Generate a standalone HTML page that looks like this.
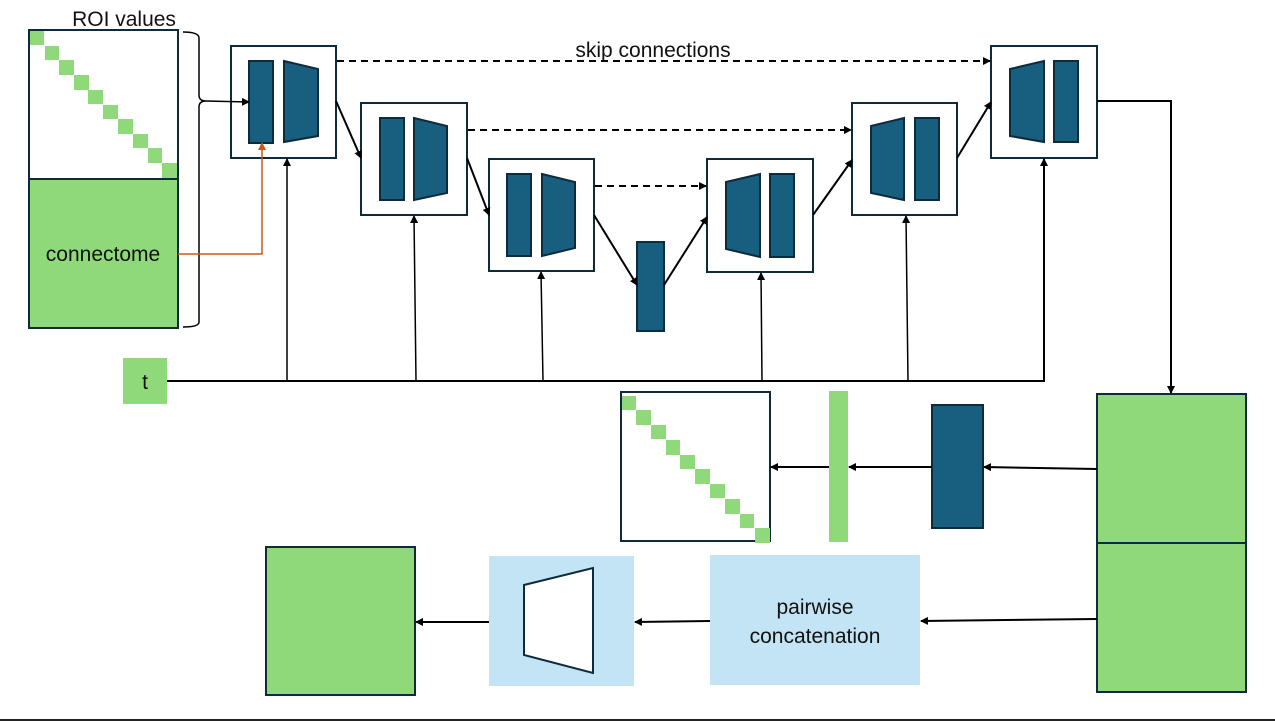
<!DOCTYPE html>
<html><head><meta charset="utf-8"><style>
html,body{margin:0;padding:0;background:#fff;}
svg{display:block;}
text{font-family:"Liberation Sans",sans-serif;fill:#111;}
</style></head><body>
<svg width="1275" height="722" viewBox="0 0 1275 722" xmlns="http://www.w3.org/2000/svg">
<defs>
<marker id="a" markerWidth="8" markerHeight="8" refX="7" refY="4" orient="auto" markerUnits="userSpaceOnUse"><path d="M0,0 L8,4 L0,8 z" fill="#000"/></marker>
<marker id="o" markerWidth="8" markerHeight="8" refX="7" refY="4" orient="auto" markerUnits="userSpaceOnUse"><path d="M0,0 L8,4 L0,8 z" fill="#c55a1c"/></marker>
</defs>
<g stroke="#0d2b3a" stroke-width="2">
<rect x="29" y="30" width="149" height="149" fill="#fff"/>
<rect x="29" y="179" width="149" height="149" fill="#8fd97a"/>
</g>
<g fill="#8fd97a">
<rect x="30" y="31" width="14" height="14"/><rect x="45" y="46" width="14" height="14"/><rect x="59" y="60" width="15" height="15"/><rect x="74" y="75" width="15" height="15"/><rect x="88" y="90" width="15" height="14"/><rect x="103" y="105" width="15" height="14"/><rect x="118" y="119" width="15" height="15"/><rect x="133" y="134" width="15" height="14"/><rect x="148" y="148" width="14" height="15"/><rect x="162" y="163" width="15" height="15"/>
</g>
<text x="124" y="26" font-size="21" text-anchor="middle">ROI values</text>
<text x="103" y="261" font-size="21" text-anchor="middle">connectome</text>
<path d="M183,32 Q199,32 199,38 L199,95 Q199,101 206,101 Q199,101 199,107 L199,322 Q199,327 183,327" fill="none" stroke="#000" stroke-width="1.5"/>
<rect x="123" y="358" width="44" height="46" fill="#8fd97a"/>
<text x="145" y="389" font-size="21" text-anchor="middle">t</text>
<!-- blocks -->
<g stroke="#0d2b3a" stroke-width="2">
<rect x="231" y="46" width="105" height="112" fill="#fff"/>
<rect x="361" y="103" width="106" height="112" fill="#fff"/>
<rect x="489" y="159" width="105" height="112" fill="#fff"/>
<rect x="707" y="159" width="106" height="113" fill="#fff"/>
<rect x="852" y="103" width="105" height="112" fill="#fff"/>
<rect x="991" y="46" width="106" height="112" fill="#fff"/>
</g>
<g stroke="#0d2b3a" stroke-width="2" fill="#175e7f">
<rect x="249" y="61" width="24" height="82"/><polygon points="284,61 318,69 318,136 284,142"/>
<rect x="380" y="118" width="24" height="82"/><polygon points="414,118 447,126 447,193 414,200"/>
<rect x="507" y="174" width="24" height="82"/><polygon points="542,174 575,182 575,248 542,256"/>
<rect x="637" y="242" width="27" height="89"/>
<polygon points="726,182 760,174 760,257 726,249"/><rect x="770" y="174" width="24" height="83"/>
<polygon points="871,126 904,118 904,200 871,193"/><rect x="915" y="118" width="24" height="82"/>
<polygon points="1010,69 1044,61 1044,142 1010,136"/><rect x="1054" y="61" width="24" height="81"/>
<rect x="932" y="405" width="51" height="123"/>
</g>
<g stroke="#0d2b3a" stroke-width="2" fill="#8fd97a">
<rect x="1097" y="394" width="149" height="149"/>
<rect x="1097" y="543" width="149" height="149"/>
<rect x="266" y="547" width="149" height="148"/>
</g>
<rect x="829" y="391" width="19" height="151" fill="#8fd97a"/>
<rect x="621" y="392" width="149" height="149" fill="#fff" stroke="#0d2b3a" stroke-width="2"/>
<g fill="#8fd97a">
<rect x="622" y="396" width="14" height="14"/><rect x="636" y="410" width="15" height="15"/><rect x="651" y="425" width="15" height="14"/><rect x="666" y="440" width="14" height="15"/><rect x="680" y="455" width="15" height="14"/><rect x="695" y="469" width="15" height="15"/><rect x="710" y="484" width="15" height="14"/><rect x="725" y="499" width="15" height="15"/><rect x="740" y="514" width="14" height="14"/><rect x="755" y="528" width="15" height="15"/>
</g>
<rect x="710" y="555" width="210" height="130" fill="#c2e4f4"/>
<text x="815" y="614" font-size="21" text-anchor="middle">pairwise</text>
<text x="815" y="643" font-size="21" text-anchor="middle">concatenation</text>
<rect x="489" y="556" width="145" height="130" fill="#c2e4f4"/>
<polygon points="524,585 593,568 593,673 524,655" fill="#fff" stroke="#0d2b3a" stroke-width="2"/>
<!-- connectors on top -->
<line x1="206" y1="101" x2="249" y2="102" stroke="#000" stroke-width="1.5" marker-end="url(#a)"/>
<polyline points="178,254 262,254 262,143" fill="none" stroke="#c55a1c" stroke-width="1.5" marker-end="url(#o)"/>
<polyline points="167,381 1044,381 1044,159" fill="none" stroke="#000" stroke-width="2" marker-end="url(#a)"/>
<g stroke="#000" stroke-width="1.5" marker-end="url(#a)">
<line x1="287" y1="381" x2="287" y2="159"/>
<line x1="416" y1="381" x2="414" y2="216"/>
<line x1="543" y1="381" x2="541" y2="272"/>
<line x1="762" y1="381" x2="761" y2="273"/>
<line x1="908" y1="381" x2="906" y2="216"/>
</g>
<g stroke="#000" stroke-width="2" stroke-dasharray="7,5" marker-end="url(#a)">
<line x1="337" y1="61" x2="990" y2="61"/>
<line x1="468" y1="130" x2="851" y2="130"/>
<line x1="595" y1="186" x2="706" y2="186"/>
</g>
<text x="653" y="57" font-size="21" text-anchor="middle">skip connections</text>
<g stroke="#000" stroke-width="2" marker-end="url(#a)">
<line x1="336" y1="101" x2="361" y2="158"/>
<line x1="467" y1="158" x2="489" y2="215"/>
<line x1="594" y1="215" x2="637" y2="285"/>
<line x1="664" y1="285" x2="707" y2="217"/>
<line x1="813" y1="215" x2="852" y2="160"/>
<line x1="957" y1="158" x2="991" y2="102"/>
</g>
<polyline points="1097,101 1171,101 1171,393" fill="none" stroke="#000" stroke-width="2" marker-end="url(#a)"/>
<g stroke="#000" stroke-width="2" marker-end="url(#a)">
<line x1="1097" y1="469" x2="984" y2="467"/>
<line x1="932" y1="467" x2="849" y2="467"/>
<line x1="829" y1="467" x2="771" y2="467"/>
<line x1="1097" y1="619" x2="921" y2="621"/>
<line x1="710" y1="621" x2="635" y2="622"/>
<line x1="489" y1="622" x2="416" y2="622"/>
</g>
<line x1="0" y1="720" x2="1275" y2="720" stroke="#222" stroke-width="2"/>
</svg>
</body></html>
